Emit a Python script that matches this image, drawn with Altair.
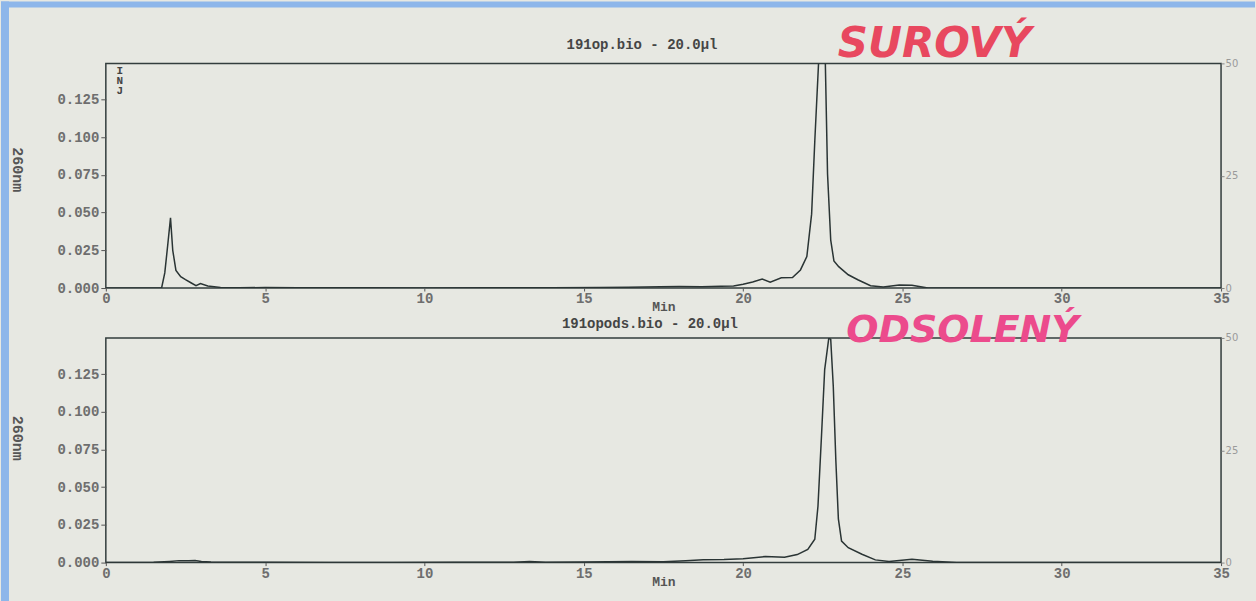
import altair as alt
import pandas as pd

# ---- data ----
# upper trace (crude sample, "SUROVÝ")
t1 = [0, 1.0, 1.75, 1.85, 1.95, 2.03, 2.1, 2.2, 2.35, 2.5,
      2.67, 2.83, 2.97, 3.2, 3.6, 4.2, 5.0, 6.0, 8.0, 10.0,
      12.0, 14.0, 15.5, 16.4, 17.4, 18.0, 18.7, 19.3, 19.7, 20.0,
      20.3, 20.6, 20.85, 21.2, 21.55, 21.8, 22.0, 22.15, 22.25, 22.37,
      22.47, 22.58, 22.65, 22.75, 22.85, 23.0, 23.3, 23.6, 24.0, 24.4,
      24.9, 25.3, 25.8, 26.5, 28, 30, 32, 35]
a1 = [0, 0, 0, 0.010, 0.030, 0.0465, 0.025, 0.0117, 0.0075, 0.0055,
      0.0035, 0.0015, 0.0029, 0.0013, 0.0004, 0.0002, 0.0003, 0.0001, 0.0001, 0,
      0.0001, 0.0002, 0.0003, 0.0005, 0.0009, 0.001, 0.0008, 0.0012, 0.0013, 0.0025,
      0.004, 0.0059, 0.0039, 0.0068, 0.007, 0.012, 0.0208, 0.049, 0.0975, 0.15,
      0.20, 0.15, 0.0756, 0.0318, 0.018, 0.0142, 0.0088, 0.0055, 0.0015, 0.0007,
      0.002, 0.0018, 0, 0, 0, 0, 0, 0]

# lower trace (desalted sample, "ODSOLENÝ")
t2 = [0, 1.5, 2.0, 2.3, 2.6, 2.8, 3.0, 3.3, 4.0, 5.0,
      7.0, 9.0, 11.0, 12.8, 13.3, 13.8, 15.0, 16.5, 17.5, 18.2,
      18.75, 19.4, 20.0, 20.7, 21.3, 21.7, 22.03, 22.25, 22.35, 22.46,
      22.56, 22.69, 22.75, 22.83, 22.91, 22.99, 23.09, 23.3, 23.73, 24.15,
      24.58, 25.3, 25.95, 26.7, 28, 30, 32, 35]
a2 = [0, 0.0002, 0.0008, 0.0013, 0.0012, 0.0014, 0.0007, 0.0004, 0.0003, 0.0002,
      0.0001, 0.0001, 0.0002, 0.0003, 0.0007, 0.0003, 0.0004, 0.0008, 0.0005, 0.0012,
      0.0018, 0.002, 0.0026, 0.004, 0.0035, 0.0053, 0.0088, 0.0155, 0.0375, 0.084,
      0.128, 0.149, 0.148, 0.117, 0.068, 0.029, 0.0143, 0.0099, 0.0055, 0.0018,
      0.0007, 0.0022, 0.0009, 0, 0, 0, 0, 0]

x_ticks = [0, 5, 10, 15, 20, 25, 30, 35]
y_ticks = [0.0, 0.025, 0.05, 0.075, 0.1, 0.125]
right_ticks = [0, 25, 50]
titles = ["191op.bio - 20.0\u00b5l", "191opods.bio - 20.0\u00b5l"]
words = ["SUROV\u00dd", "ODSOLEN\u00dd"]
word_colors = ["#e8485f", "#ec4b8c"]

# ---- style ----
W, H = 1117, 225
YMAX = 0.149
PAPER = "#e7e8e2"
BLUE = "#8db6ea"
INK = "#2a3434"
MONO = "Liberation Mono"
LABEL = "#6e6e6e"


def panel(t, a, title, tx, ty, word, wcolor, wx, wy, wsize, ytitle_y, extra=None):
    df = pd.DataFrame({"t": t, "a": a})
    base = alt.Chart(df)
    line = base.mark_line(color=INK, strokeWidth=1.5, clip=True).encode(
        x=alt.X("t:Q",
                scale=alt.Scale(domain=[0, 35], nice=False, zero=False),
                axis=alt.Axis(values=x_ticks, title="Min", labelFlush=False,
                              labelFont=MONO, labelFontWeight="bold",
                              labelFontSize=14, labelColor=LABEL,
                              tickSize=3, tickColor="#555", labelPadding=1,
                              titleFont=MONO, titleFontWeight="bold",
                              titleFontSize=13, titleColor="#555",
                              titleY=13, titleBaseline="top")),
        y=alt.Y("a:Q",
                scale=alt.Scale(domain=[0, YMAX], nice=False, zero=False),
                axis=alt.Axis(values=y_ticks, format=".3f", title="260nm",
                              labelFont=MONO, labelFontWeight="bold",
                              labelFontSize=14, labelColor=LABEL,
                              tickSize=5, tickColor="#555", labelPadding=2,
                              titleFont=MONO, titleFontWeight="bold",
                              titleFontSize=15, titleColor="#555",
                              titleAngle=90, titleX=-88, titleY=ytitle_y,
                              titleAlign="center", titleBaseline="middle")),
    )
    right = base.mark_line(opacity=0).encode(
        x="t:Q",
        y=alt.Y("a:Q",
                scale=alt.Scale(domain=[0, 50], nice=False, zero=False),
                axis=alt.Axis(orient="right", values=right_ticks, title="",
                              labelFont="DejaVu Sans", labelFontSize=10,
                              labelColor="#9a9a9a", tickSize=3,
                              tickColor="#888", labelPadding=1)),
    )
    ttxt = alt.Chart(pd.DataFrame({"s": [title]})).mark_text(
        font=MONO, fontWeight="bold", fontSize=14, color="#454545",
        align="center", baseline="alphabetic",
    ).encode(text="s:N", x=alt.value(tx), y=alt.value(ty))
    wtxt = alt.Chart(pd.DataFrame({"w": [word]})).mark_text(
        font="DejaVu Sans", fontSize=wsize, fontWeight="bold", fontStyle="italic",
        color=wcolor, align="center", baseline="middle",
    ).encode(text="w:N", x=alt.value(wx), y=alt.value(wy))
    layers = [line, right, ttxt, wtxt]
    if extra:
        layers += extra
    return alt.layer(*layers).resolve_scale(y="independent").properties(
        width=W, height=H,
    )


one = pd.DataFrame({"k": [1]})
inj = alt.Chart(pd.DataFrame({"s": ["I\nN\nJ"]})).mark_text(
    font=MONO, fontWeight="bold", fontSize=11, color="#444",
    lineBreak="\n", lineHeight=10, align="center", baseline="top",
).encode(text="s:N", x=alt.value(14), y=alt.value(2))
strip_left = alt.Chart(one).mark_rect(color=BLUE).encode(
    x=alt.value(-105), x2=alt.value(-97), y=alt.value(-62), y2=alt.value(539))
strip_top = alt.Chart(one).mark_rect(color=BLUE).encode(
    x=alt.value(-105), x2=alt.value(1151), y=alt.value(-62), y2=alt.value(-56))

top = panel(t1, a1, titles[0], 537, -14, words[0], word_colors[0], 830, -19, 42, 106,
            extra=[inj, strip_left, strip_top])
bottom = panel(t2, a2, titles[1], 545, -10, words[1], word_colors[1], 858, -7, 38, 100)

chart = alt.vconcat(top, bottom, spacing=50, bounds="flush").properties(
    background=PAPER, padding=0,
).configure_view(
    stroke="#333d3d", strokeWidth=1.5,
).configure_axis(
    grid=False, domain=False,
)

chart.save("out.html", embed_options={"renderer": "svg", "actions": False})
